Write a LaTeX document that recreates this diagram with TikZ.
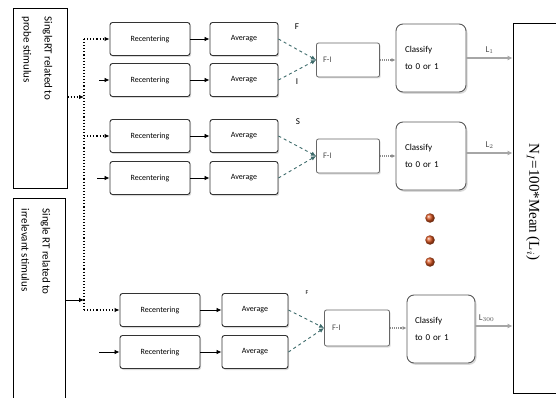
\documentclass[tikz,border=0pt]{standalone}
\usepackage{fontspec}
\setmainfont{Carlito}
\newfontfamily\formfont{Liberation Serif}
\usetikzlibrary{arrows.meta,shadows}
\definecolor{teal1}{HTML}{3E6B6B}
\definecolor{dotor}{HTML}{D8531E}
\tikzset{
  rbox/.style={draw=black!80, fill=white, rounded corners=2.5pt, line width=0.9pt,
    minimum width=80pt, minimum height=33pt, inner sep=1pt,
    font=\fontsize{8}{9}\selectfont,
    drop shadow={opacity=0.3, shadow xshift=1.2pt, shadow yshift=-1.5pt}},
  abox/.style={rbox, minimum width=68pt},
  fibox/.style={draw=black!60, fill=white, rounded corners=2pt, line width=0.8pt,
    minimum width=63pt, minimum height=34pt, font=\fontsize{8.5}{9}\selectfont,
    text=black!70, align=left, text width=50pt,
    drop shadow={opacity=0.25, shadow xshift=1.2pt, shadow yshift=-1.5pt}},
  clbox/.style={draw=black!65, fill=white, rounded corners=7pt, line width=0.9pt,
    minimum width=70pt, minimum height=68pt, font=\fontsize{9}{17}\selectfont,
    align=left, text width=52pt,
    drop shadow={opacity=0.3, shadow xshift=1.5pt, shadow yshift=-1.8pt}},
  sidebox/.style={draw=black, line width=0.8pt, fill=white},
  sidetxt/.style={rotate=-90, anchor=west, align=left, font=\fontsize{11}{21}\selectfont},
  tip/.style={-{Latex[length=5pt,width=4.5pt]}},
  arr/.style={tip, line width=0.8pt, black},
  dotarr/.style={tip, line width=1.1pt, dotted, black},
  conv/.style={tip, line width=0.9pt, dashed, teal1},
  lout/.style={-{Latex[length=5pt,width=5pt]}, line width=2.4pt, black!35},
  fiarr/.style={-{Latex[length=4pt,width=4pt]}, line width=1.1pt, black!45, densely dotted},
  lab/.style={font=\fontsize{9}{10}\selectfont},
  orb/.style={circle, minimum size=9.5pt, inner sep=0pt, ball color=dotor}
}
\begin{document}
\begin{tikzpicture}[x=1pt,y=-1pt]
\useasboundingbox (0,0) rectangle (556,398);

% side boxes
\node[sidebox, minimum width=54pt, minimum height=180pt] (topsrc) at (40,98) {};
\node[sidetxt] (toptxt) at (37,13) {SingleRT related to\\probe stimulus};
\node[sidebox, minimum width=52pt, minimum height=210pt] (botsrc) at (39,303) {};
\node[sidetxt] (bottxt) at (36,205) {Single RT related to\\irrelevant stimulus};

% big result box
\node[draw=black, line width=0.8pt, minimum width=47pt, minimum height=370pt, fill=white]
  (res) at (536.5,208) {};
\node[rotate=-90, font=\formfont\fontsize{15}{17}\selectfont] (restxt) at (533,202)
  {N$_I$=100*Mean (L$_i$)};

% group 1
\node[rbox] (r11) at (150,39) {Recentering};
\node[rbox] (r12) at (150,80) {Recentering};
\node[abox] (a11) at (244,39) {Average};
\node[abox] (a12) at (244,80) {Average};
\node[fibox] (fi1) at (348,60) {F-I};
\node[clbox] (cl1) at (431,58) {Classify\\to 0 or 1};

% group 2
\node[rbox] (r21) at (150,136) {Recentering};
\node[rbox] (r22) at (150,178) {Recentering};
\node[abox] (a21) at (244,136) {Average};
\node[abox] (a22) at (244,178) {Average};
\node[fibox] (fi2) at (348,156) {F-I};
\node[clbox] (cl2) at (431,156) {Classify\\to 0 or 1};

% group 3
\node[rbox] (r31) at (160,310) {Recentering};
\node[rbox] (r32) at (160,352) {Recentering};
\node[abox, minimum width=66pt] (a31) at (255,310) {Average};
\node[abox, minimum width=66pt] (a32) at (255,352) {Average};
\node[fibox, minimum width=65pt, minimum height=36pt] (fi3) at (357,328) {F-I};
\node[clbox, minimum width=68pt] (cl3) at (441,329) {Classify\\to 0 or 1};

% dots
\node[orb] (d1) at (430,218) {};
\node[orb] (d2) at (430,240) {};
\node[orb] (d3) at (430,262) {};

% labels
\node[lab] (lf1) at (297,27) {F};
\node[lab] (li1) at (297,82) {I};
\node[lab] (lf2) at (298,122) {S};
\node[lab, font=\fontsize{6}{7}\selectfont] (lf3) at (307,293) {F};

% input connectors
\coordinate (v1) at (84,39);
\coordinate (vm) at (84,97);
\coordinate (v2) at (84,136);
\coordinate (v3) at (84,310);
\coordinate (vb) at (84,300);
\draw[line width=1.1pt, dotted] (v1) -- (v3);
\draw[dotarr] (topsrc.east |- vm) -- (vm);
\draw[arr] (botsrc.east |- vb) -- (vb);
\draw[dotarr] (v1) -- (r11.west);
\draw[dotarr] (v2) -- (r21.west);
\draw[dotarr] (v3) -- (r31.west);
\coordinate (s12) at (99,80);
\coordinate (s22) at (97,178);
\coordinate (s32) at (99,352);
\draw[arr] (s12) -- (r12.west);
\draw[arr] (s22) -- (r22.west);
\draw[arr] (s32) -- (r32.west);

% recentering -> average
\foreach \g in {11,12,21,22,31,32} { \draw[arr] (r\g.east) -- (a\g.west); }

% converging
\draw[conv] (a11.east) -- (fi1.west);
\draw[conv] (a12.east) -- (fi1.west);
\draw[conv] (a21.east) -- (fi2.west);
\draw[conv] (a22.east) -- (fi2.west);
\draw[conv] (a31.east) -- (fi3.west);
\draw[conv] (a32.east) -- (fi3.west);

% F-I -> classify
\draw[fiarr] (fi1.east) -- (cl1.west |- fi1.east);
\draw[fiarr] (fi2.east) -- (cl2.west |- fi2.east);
\draw[fiarr] (fi3.east) -- (cl3.west |- fi3.east);

% classify -> result
\draw[lout] (cl1.east) -- (res.west |- cl1.east) node[midway, above, black!70, lab] {L$_1$};
\draw[lout] (cl2.east |- 0,153) -- (res.west |- 0,153) node[midway, above, black!70, lab] {L$_2$};
\draw[lout] (cl3.east |- 0,326) -- (res.west |- 0,326) node[pos=0.3, above, black!70, lab] {L$_{300}$};
\end{tikzpicture}
\end{document}
